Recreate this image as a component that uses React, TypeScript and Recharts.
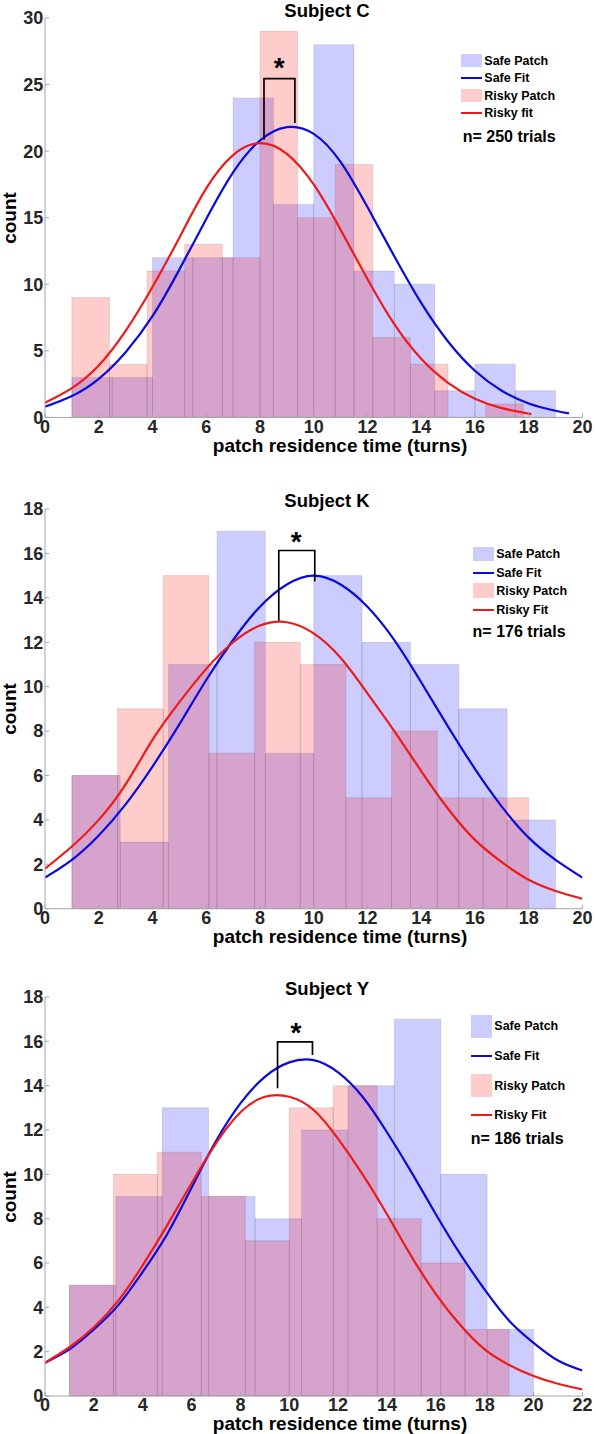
import React from 'react';
import { ComposedChart, XAxis, YAxis, Line, ReferenceArea, Scatter } from 'recharts';

const FONT = "'Liberation Sans', Arial, Helvetica, sans-serif";

// ---------- Subject C ----------
const safeEdgesC = [1, 2.5, 4, 5.5, 7, 8.5, 10, 11.5, 13, 14.5, 16, 17.5, 19];
const safeCountsC = [3, 3, 12, 12, 24, 16, 28, 11, 10, 2, 4, 2];
const riskyEdgesC = [1, 2.4, 3.8, 5.2, 6.6, 8.0, 9.4, 10.8, 12.2, 13.6, 15.0, 16.4, 17.8];
const riskyCountsC = [9, 4, 11, 13, 12, 29, 15, 19, 6, 4, 0, 1];
const safeFitXC = [0, 1, 2, 3, 4, 5, 6, 7, 8, 9, 10, 11, 12, 13, 14, 15, 16, 17, 18, 19, 19.5];
const safeFitYC = [0.8, 1.6, 2.9, 4.9, 7.6, 11.1, 14.9, 18.4, 20.8, 21.8, 21.3, 19.2, 15.8, 12.1, 8.6, 5.7, 3.5, 2.0, 1.05, 0.5, 0.3];
const riskyFitXC = [0, 1, 2, 3, 4, 5, 6, 7, 8, 9, 10, 11, 12, 13, 14, 15, 16, 17, 18.1];
const riskyFitYC = [1.1, 2.2, 3.9, 6.5, 9.8, 13.5, 17.2, 19.7, 20.6, 19.8, 17.5, 14.1, 10.4, 7.0, 4.4, 2.6, 1.4, 0.7, 0.25];
const bracketXC = [8.15, 8.15, 9.3, 9.3];
const bracketYC = [20.85, 25.45, 25.45, 22.12];
const starC = { x: 8.72, y: 26.75 };

// ---------- Subject K ----------
const safeEdgesK = [1, 2.8, 4.6, 6.4, 8.2, 10, 11.8, 13.6, 15.4, 17.2, 19];
const safeCountsK = [6, 3, 11, 17, 7, 15, 12, 11, 9, 4];
const riskyEdgesK = [1, 2.7, 4.4, 6.1, 7.8, 9.5, 11.2, 12.9, 14.6, 16.3, 18];
const riskyCountsK = [6, 9, 15, 7, 12, 11, 5, 8, 5, 5];
const safeFitXK = [0, 1, 2, 3, 4, 5, 6, 7, 8, 9, 10, 11, 12, 13, 14, 15, 16, 17, 18, 19, 20];
const safeFitYK = [1.4, 2.2, 3.3, 4.7, 6.4, 8.3, 10.3, 12.1, 13.6, 14.6, 15.0, 14.6, 13.6, 12.1, 10.2, 8.2, 6.3, 4.6, 3.2, 2.2, 1.4];
const riskyFitXK = [0, 1, 2, 3, 4, 5, 6, 7, 8, 9, 10, 11, 12, 13, 14, 15, 16, 17, 18, 19, 20];
const riskyFitYK = [1.8, 2.8, 4.0, 5.6, 7.6, 9.3, 10.8, 12.0, 12.75, 12.9, 12.4, 11.3, 9.7, 8.0, 6.2, 4.5, 3.1, 2.1, 1.3, 0.8, 0.45];
const bracketXK = [8.7, 8.7, 10.04, 10.04];
const bracketYK = [12.97, 16.13, 16.13, 14.73];
const starK = { x: 9.35, y: 16.83 };

// ---------- Subject Y ----------
const safeEdgesY = [1, 2.9, 4.8, 6.7, 8.6, 10.5, 12.4, 14.3, 16.2, 18.1, 20];
const safeCountsY = [5, 9, 13, 9, 8, 12, 14, 17, 10, 3];
const riskyEdgesY = [1, 2.8, 4.6, 6.4, 8.2, 10, 11.8, 13.6, 15.4, 17.2, 19];
const riskyCountsY = [5, 10, 11, 9, 7, 13, 14, 8, 6, 3];
const safeFitXY = [0, 1, 2, 3, 4, 5, 6, 7, 8, 9, 10, 11, 12, 13, 14, 15, 16, 17, 18, 19, 20, 21, 22];
const safeFitYY = [1.5, 2.1, 3.0, 4.1, 5.6, 7.3, 9.4, 11.5, 13.2, 14.4, 15.05, 15.15, 14.6, 13.5, 11.9, 10.1, 8.2, 6.4, 4.8, 3.4, 2.4, 1.6, 1.15];
const riskyFitXY = [0, 1, 2, 3, 4, 5, 6, 7, 8, 9, 10, 11, 12, 13, 14, 15, 16, 17, 18, 19, 20, 21, 22];
const riskyFitYY = [1.5, 2.2, 3.1, 4.3, 5.9, 7.7, 9.6, 11.4, 12.8, 13.5, 13.5, 12.9, 11.6, 10.0, 8.2, 6.3, 4.6, 3.2, 2.1, 1.4, 0.9, 0.55, 0.3];
const bracketXY = [9.52, 9.52, 10.95, 10.95];
const bracketYY = [13.88, 15.98, 15.98, 15.38];
const starY = { x: 10.27, y: 16.66 };

// ---------- ticks ----------
const xTicks20 = [0, 2, 4, 6, 8, 10, 12, 14, 16, 18, 20];
const xTicks22 = [0, 2, 4, 6, 8, 10, 12, 14, 16, 18, 20, 22];
const yTicks30 = [0, 5, 10, 15, 20, 25, 30];
const yTicks18 = [0, 2, 4, 6, 8, 10, 12, 14, 16, 18];

const SAFE_LINE = '#0a0ae0';
const RISKY_LINE = '#ee1a1a';
const SAFE_PATCH = '#ccccff';
const RISKY_PATCH = '#ffcccc';
const AXIS = '#a6a6a6';

const pts = (xs: number[], ys: number[]) => xs.map((x, i) => ({ x, y: ys[i] }));
const bins = (edges: number[], counts: number[]) =>
  counts.map((c, i) => ({ x1: edges[i], x2: edges[i + 1], c }));

const panels = [
  {
    title: 'Subject C', plotTop: 18.3, plotH: 399.4, xMax: 20, yMax: 30,
    xTicks: xTicks20, yTicks: yTicks30,
    safe: bins(safeEdgesC, safeCountsC), risky: bins(riskyEdgesC, riskyCountsC),
    safeFit: pts(safeFitXC, safeFitYC), riskyFit: pts(riskyFitXC, riskyFitYC),
    bracket: pts(bracketXC, bracketYC), star: [starC],
    legend: { rx: 460.7, tx: 484.3, nx: 462.7, r1: [35.7, 49], l1: 60, r2: [71, 83.7], l2: 95, n: 118.4 },
    labels: ['Safe Patch', 'Safe Fit', 'Risky Patch', 'Risky fit'], n: 'n= 250 trials',
  },
  {
    title: 'Subject K', plotTop: 509, plotH: 399.7, xMax: 20, yMax: 18,
    xTicks: xTicks20, yTicks: yTicks18,
    safe: bins(safeEdgesK, safeCountsK), risky: bins(riskyEdgesK, riskyCountsK),
    safeFit: pts(safeFitXK, safeFitYK), riskyFit: pts(riskyFitXK, riskyFitYK),
    bracket: pts(bracketXK, bracketYK), star: [starK],
    legend: { rx: 472.6, tx: 496.2, nx: 472.6, r1: [37.7, 51.7], l1: 63.7, r2: [74, 89.3], l2: 101, n: 122.7 },
    labels: ['Safe Patch', 'Safe Fit', 'Risky Patch', 'Risky Fit'], n: 'n= 176 trials',
  },
  {
    title: 'Subject Y', plotTop: 997, plotH: 399, xMax: 22, yMax: 18,
    xTicks: xTicks22, yTicks: yTicks18,
    safe: bins(safeEdgesY, safeCountsY), risky: bins(riskyEdgesY, riskyCountsY),
    safeFit: pts(safeFitXY, safeFitYY), riskyFit: pts(riskyFitXY, riskyFitYY),
    bracket: pts(bracketXY, bracketYY), star: [starY],
    legend: { rx: 470.7, tx: 494.3, nx: 470.7, r1: [18, 40.7], l1: 59, r2: [77.3, 99.7], l2: 118, n: 142.3 },
    labels: ['Safe Patch', 'Safe Fit', 'Risky Patch', 'Risky Fit'], n: 'n= 186 trials',
  },
];

const STAR_FS = 28;
const StarShape = (p: any) => (
  <text x={p.cx} y={p.cy + STAR_FS * 0.555} textAnchor="middle" fontSize={STAR_FS}
    fontWeight={700} fontFamily={FONT} fill="#000">*</text>
);

function Txt({ x, y, size, children, anchor = 'middle', rotate = 0, color = '#000' }: any) {
  const tx = anchor === 'middle' ? '-50%' : '0';
  return (
    <div style={{
      position: 'absolute', left: x, top: y, fontFamily: FONT, fontWeight: 700, fontSize: size,
      lineHeight: 1, whiteSpace: 'nowrap', color,
      transform: `translate(${tx}, -50%)${rotate ? ` rotate(${rotate}deg)` : ''}`,
      transformOrigin: 'center',
    }}>{children}</div>
  );
}

function Panel({ cfg }: any) {
  const H = 460;
  const TOP = 18;
  const T = cfg.plotTop - TOP;
  const B = H - TOP - 30 - cfg.plotH;
  const L = cfg.legend;
  const tickStyle = { fill: '#262626', fontSize: 18, fontWeight: 700, fontFamily: FONT };
  return (
    <div style={{ position: 'absolute', left: 0, top: T, width: 596, height: H }}>
      <ComposedChart width={596} height={H} margin={{ top: TOP, right: 13.6, bottom: B, left: 0 }}>
        <XAxis type="number" dataKey="x" domain={[0, cfg.xMax]} ticks={cfg.xTicks} interval={0}
          height={30} tickSize={-4} tickMargin={6.6} axisLine={{ stroke: AXIS }}
          tickLine={{ stroke: AXIS }} tick={tickStyle} allowDataOverflow />
        <YAxis type="number" dataKey="y" domain={[0, cfg.yMax]} ticks={cfg.yTicks} interval={0}
          width={45} tickSize={-4} tickMargin={5.7} axisLine={{ stroke: AXIS }}
          tickLine={{ stroke: AXIS }} tick={tickStyle} allowDataOverflow />
        {cfg.safe.map((b: any, i: number) => (
          <ReferenceArea key={'s' + i} x1={b.x1} x2={b.x2} y1={0} y2={b.c} fill="#0000ff"
            fillOpacity={0.2} stroke="#000" strokeOpacity={0.13} strokeWidth={0.8} ifOverflow="visible" />
        ))}
        {cfg.risky.map((b: any, i: number) => (
          <ReferenceArea key={'r' + i} x1={b.x1} x2={b.x2} y1={0} y2={b.c} fill="#ff0000"
            fillOpacity={0.2} stroke="#000" strokeOpacity={0.13} strokeWidth={0.8} ifOverflow="visible" />
        ))}
        <Line data={cfg.safeFit} dataKey="y" type="natural" stroke={SAFE_LINE} strokeWidth={2.2}
          dot={false} activeDot={false} isAnimationActive={false} />
        <Line data={cfg.riskyFit} dataKey="y" type="natural" stroke={RISKY_LINE} strokeWidth={2.2}
          dot={false} activeDot={false} isAnimationActive={false} />
        <Line data={cfg.bracket} dataKey="y" type="linear" stroke="#000" strokeWidth={1.7}
          dot={false} activeDot={false} isAnimationActive={false} />
        <Scatter data={cfg.star} dataKey="y" shape={StarShape} isAnimationActive={false} />
      </ComposedChart>

      <Txt x={327} y={TOP - 7.6} size={18.5}>{cfg.title}</Txt>
      <Txt x={9} y={TOP + cfg.plotH / 2} size={19} rotate={-90} color="#000">count</Txt>
      <Txt x={340} y={TOP + cfg.plotH + 27} size={19} color="#000">patch residence time (turns)</Txt>

      <div style={{ position: 'absolute', left: L.rx, top: TOP + L.r1[0], width: 21, height: L.r1[1] - L.r1[0], background: SAFE_PATCH }} />
      <div style={{ position: 'absolute', left: L.rx, top: TOP + L.l1 - 1.1, width: 21, height: 2.2, background: SAFE_LINE }} />
      <div style={{ position: 'absolute', left: L.rx, top: TOP + L.r2[0], width: 21, height: L.r2[1] - L.r2[0], background: RISKY_PATCH }} />
      <div style={{ position: 'absolute', left: L.rx, top: TOP + L.l2 - 1.1, width: 21, height: 2.2, background: RISKY_LINE }} />
      <Txt x={L.tx} y={TOP + (L.r1[0] + L.r1[1]) / 2} size={12.5} anchor="start">{cfg.labels[0]}</Txt>
      <Txt x={L.tx} y={TOP + L.l1} size={12.5} anchor="start">{cfg.labels[1]}</Txt>
      <Txt x={L.tx} y={TOP + (L.r2[0] + L.r2[1]) / 2} size={12.5} anchor="start">{cfg.labels[2]}</Txt>
      <Txt x={L.tx} y={TOP + L.l2} size={12.5} anchor="start">{cfg.labels[3]}</Txt>
      <Txt x={L.nx} y={TOP + L.n} size={16} anchor="start">{cfg.n}</Txt>
    </div>
  );
}

export default function App() {
  return (
    <div style={{ position: 'absolute', left: 0, top: 0, width: 596, height: 1434, background: '#fff', overflow: 'hidden' }}>
      {panels.map((p, i) => <Panel key={i} cfg={p} />)}
    </div>
  );
}
